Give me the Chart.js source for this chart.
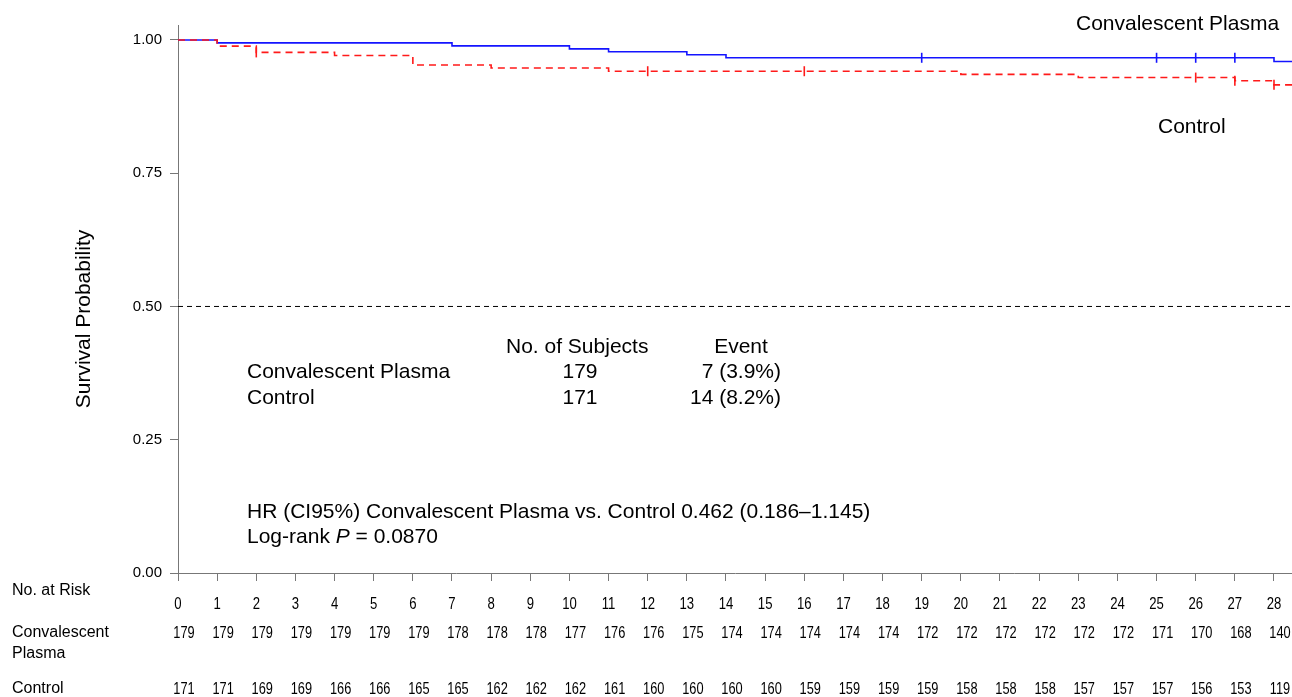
<!DOCTYPE html>
<html>
<head>
<meta charset="utf-8">
<script src="https://cdn.jsdelivr.net/npm/chart.js@4.4.1/dist/chart.umd.min.js"></script>
<style>
  html, body { margin: 0; padding: 0; background: #fff; overflow: hidden; }
  #wrap { position: relative; width: 1292px; height: 697px; }
  canvas { display: block; }
</style>
</head>
<body>
<div id="wrap"><canvas id="km" width="1292" height="697"></canvas></div>
<script>
// Follow-up days shown on the x axis and in the at-risk table
const days = [0,1,2,3,4,5,6,7,8,9,10,11,12,13,14,15,16,17,18,19,20,21,22,23,24,25,26,27,28];
const riskPlasma  = [179,179,179,179,179,179,179,178,178,178,177,176,176,175,174,174,174,174,174,172,172,172,172,172,172,171,170,168,140];
const riskControl = [171,171,169,169,166,166,165,165,162,162,162,161,160,160,160,160,159,159,159,159,158,158,158,157,157,157,156,153,119];

// Kaplan-Meier estimates: event times and survival after each event
const plasmaTimes = [0, 1, 7, 10, 11, 13, 14, 28];
const plasmaSurv  = [1.0, 0.9944, 0.9888, 0.9832, 0.9777, 0.9721, 0.9665, 0.9596];
const controlTimes = [0, 1, 2, 4, 6, 8, 11, 20, 23, 27, 28];
const controlSurv  = [1.0, 0.9883, 0.9766, 0.9707, 0.9531, 0.9472, 0.9413, 0.9354, 0.9294, 0.9234, 0.9157];

// Censoring times
const plasmaCensor  = [19, 25, 26, 27];
const controlCensor = [2, 12, 16, 26, 27, 28];

const yTicks = [0, 0.25, 0.5, 0.75, 1.0];
const xEnd = 28.46;
const yTop = 1.028;

function stepPoints(times, surv, end) {
  const pts = [{x: times[0], y: surv[0]}];
  for (let i = 1; i < times.length; i++) {
    pts.push({x: times[i], y: surv[i - 1]});
    pts.push({x: times[i], y: surv[i]});
  }
  pts.push({x: end, y: surv[surv.length - 1]});
  return pts;
}
function levelAt(t, times, surv) {
  let s = surv[0];
  for (let i = 0; i < times.length; i++) if (times[i] <= t) s = surv[i];
  return s;
}
function censorPoints(cens, times, surv) {
  return cens.map(t => ({x: t, y: levelAt(t, times, surv)}));
}

const BLUE = '#1414ff';
const RED = '#ff1a1a';
const SANS = "'Liberation Sans', Arial, Helvetica, sans-serif";

// condensed text: regular face squeezed horizontally around its anchor
function narrowText(ctx, text, x, y, squeeze) {
  ctx.save();
  ctx.translate(x, y);
  ctx.scale(squeeze, 1);
  ctx.fillText(text, 0, 0);
  ctx.restore();
}

const annotations = {
  id: 'annotations',
  afterDraw(chart) {
    const ctx = chart.ctx;
    const xs = chart.scales.x;
    ctx.save();
    ctx.fillStyle = '#000';
    ctx.textBaseline = 'middle';

    // y axis title
    ctx.save();
    ctx.translate(84, 319);
    ctx.rotate(-Math.PI / 2);
    ctx.font = '21px ' + SANS;
    ctx.textAlign = 'center';
    ctx.fillText('Survival Probability', 0, 0);
    ctx.restore();

    // curve labels
    ctx.font = '21px ' + SANS;
    ctx.textAlign = 'left';
    ctx.fillText('Convalescent Plasma', 1076, 24);
    ctx.fillText('Control', 1158, 127);

    // summary table
    ctx.fillText('No. of Subjects', 506, 347);
    ctx.textAlign = 'center';
    ctx.fillText('Event', 741, 347);
    ctx.textAlign = 'left';
    ctx.fillText('Convalescent Plasma', 247, 372);
    ctx.fillText('Control', 247, 398);
    ctx.textAlign = 'center';
    ctx.fillText(String(riskPlasma[0]), 580, 372);
    ctx.fillText(String(riskControl[0]), 580, 398);
    ctx.textAlign = 'right';
    ctx.fillText('7 (3.9%)', 781, 372);
    ctx.fillText('14 (8.2%)', 781, 398);

    // hazard ratio and log-rank test
    ctx.textAlign = 'left';
    ctx.fillText('HR (CI95%) Convalescent Plasma vs. Control 0.462 (0.186\u20131.145)', 247, 512);
    let x = 247;
    const part1 = 'Log-rank ';
    ctx.fillText(part1, x, 537);
    x += ctx.measureText(part1).width;
    ctx.font = 'italic 21px ' + SANS;
    ctx.fillText('P', x, 537);
    x += ctx.measureText('P').width;
    ctx.font = '21px ' + SANS;
    ctx.fillText(' = 0.0870', x, 537);

    // number at risk table
    ctx.font = '16px ' + SANS;
    ctx.textAlign = 'left';
    ctx.fillText('No. at Risk', 12, 591);
    ctx.fillText('Convalescent', 12, 633);
    ctx.fillText('Plasma', 12, 654);
    ctx.fillText('Control', 12, 689);

    // x tick labels (day numbers) and counts at risk
    ctx.textAlign = 'center';
    days.forEach((d, i) => {
      const px = xs.getPixelForValue(d);
      narrowText(ctx, String(d), px, 605, 0.82);
      narrowText(ctx, String(riskPlasma[i]), px + 6, 634, 0.8);
      narrowText(ctx, String(riskControl[i]), px + 6, 690, 0.8);
    });
    ctx.restore();
  }
};

new Chart(document.getElementById('km'), {
  type: 'line',
  data: {
    datasets: [
      {
        label: 'Median',
        data: [{x: 0, y: 0.5}, {x: xEnd, y: 0.5}],
        borderColor: '#000',
        borderWidth: 1,
        borderDash: [5, 4],
        pointRadius: 0
      },
      {
        label: 'Control',
        data: stepPoints(controlTimes, controlSurv, xEnd),
        borderColor: RED,
        borderWidth: 1.6,
        borderDash: [7, 5],
        pointRadius: 0
      },
      {
        label: 'Convalescent Plasma',
        data: stepPoints(plasmaTimes, plasmaSurv, xEnd),
        borderColor: BLUE,
        borderWidth: 1.6,
        pointRadius: 0
      },
      {
        label: 'Control censored',
        data: censorPoints(controlCensor, controlTimes, controlSurv),
        showLine: false,
        pointStyle: 'line',
        rotation: 90,
        pointRadius: 5,
        borderColor: RED,
        pointBorderColor: RED,
        pointBorderWidth: 1.6
      },
      {
        label: 'Convalescent Plasma censored',
        data: censorPoints(plasmaCensor, plasmaTimes, plasmaSurv),
        showLine: false,
        pointStyle: 'line',
        rotation: 90,
        pointRadius: 5,
        borderColor: BLUE,
        pointBorderColor: BLUE,
        pointBorderWidth: 1.6
      }
    ]
  },
  options: {
    responsive: false,
    animation: false,
    devicePixelRatio: 1,
    layout: { autoPadding: false, padding: { top: 25, left: 0, right: 0, bottom: 0 } },
    plugins: { legend: { display: false }, tooltip: { enabled: false } },
    elements: { line: { tension: 0 } },
    scales: {
      x: {
        type: 'linear',
        min: 0,
        max: xEnd,
        afterBuildTicks: s => { s.ticks = days.map(v => ({value: v})); },
        afterFit: s => { s.height = 124; },
        border: { display: true, color: '#777', width: 1 },
        grid: { drawOnChartArea: false, drawTicks: true, tickLength: 8, color: '#777' },
        ticks: { display: false }
      },
      y: {
        type: 'linear',
        min: 0,
        max: yTop,
        afterBuildTicks: s => { s.ticks = yTicks.map(v => ({value: v})); },
        afterFit: s => { s.width = 178; },
        border: { display: true, color: '#777', width: 1 },
        grid: { drawOnChartArea: false, drawTicks: true, tickLength: 8, color: '#777' },
        ticks: {
          font: { family: SANS, size: 15 },
          color: '#000',
          padding: 8,
          callback: v => Number(v).toFixed(2)
        }
      }
    }
  },
  plugins: [annotations]
});
</script>
</body>
</html>
